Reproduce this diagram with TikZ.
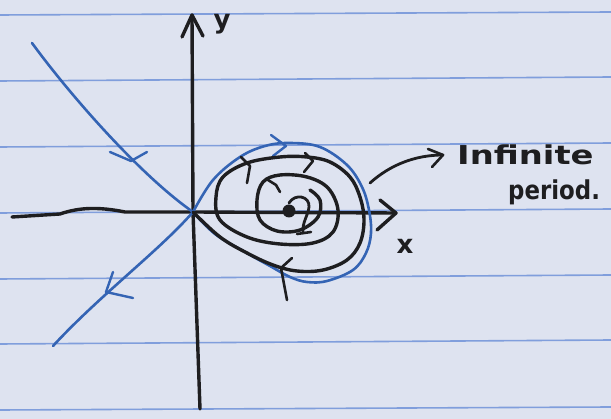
\documentclass[tikz,border=0pt]{standalone}
\usepackage{fontspec}
\newfontfamily\handfont{DejaVu Sans}
\begin{document}
\begin{tikzpicture}[x=1pt,y=-1pt,
  rule/.style={draw=rulec,line width=1.6pt},
  blueink/.style={draw=inkblue,line width=2.6pt,line cap=round,line join=round},
  blackink/.style={draw=inkblack,line width=3.4pt,line cap=round,line join=round},
  barb/.style={draw=inkblack,line width=2.6pt,line cap=round,line join=round},
  bluebarb/.style={draw=inkblue,line width=2.4pt,line cap=round,line join=round},
  handtext/.style={text=inkblack,inner sep=0pt,font=\handfont\bfseries}]
\definecolor{paperc}{RGB}{222,227,240}
\definecolor{rulec}{RGB}{128,158,220}
\definecolor{inkblue}{RGB}{52,100,180}
\definecolor{inkblack}{RGB}{30,30,32}
\useasboundingbox (0,0) rectangle (611,419);
\fill[paperc] (0,0) rectangle (611,419);
% ruled lines
\foreach \yl/\yr in {15/12,81/77,147/143,213/209,279/275,344/340,410/407}
  \draw[rule] (0,\yl) -- (611,\yr);
% axes
\coordinate (O) at (193,212);
\draw[blackink] (200,409) -- (O) -- (192,15);
\draw[blackink] (182,37) -- (192,15) -- (203,36);
\draw[blackink] (12,217) -- (60,214) .. controls (80,207) and (100,207) .. (125,212) -- (O) -- (396,213);
\draw[blackink] (380,200) -- (396,213) -- (377,230);
\node[handtext,font=\handfont\bfseries\fontsize{26}{26}\selectfont] (ylab) at (222,24) {y};
\node[handtext,font=\handfont\bfseries\fontsize{26}{26}\selectfont] (xlab) at (405,246) {x};
% stable manifold (blue)
\draw[blueink] (32,43) .. controls (70,95) and (140,175) .. (O);
\draw[bluebarb] (110,152) -- (131,161) -- (147,152);
% unstable manifold
\draw[blueink] (O) .. controls (160,250) and (100,295) .. (53,346);
\draw[bluebarb] (113,272) -- (106,292) -- (133,298);
% homoclinic loop (blue)
\draw[blueink] plot[smooth,tension=0.6] coordinates {(O) (213,180) (240,157) (265,146) (290,143) (320,147) (347,165) (362,187) (369,210) (371,233) (366,253) (353,270) (327,281) (307,282) (290,277) (270,266) (245,252) (215,234) (O)};
\draw[bluebarb] (271,135) -- (286,146) -- (273,156);
% spiral (black)
\draw[blackink] plot[smooth,tension=0.6] coordinates {(O) (220,237) (247,253) (273,265) (297,271) (323,270) (347,260) (360,243) (364,220) (360,197) (350,177) (330,162) (307,157) (280,157) (247,163) (223,177) (216,197) (220,220) (247,237) (280,244) (313,243) (333,232) (338,210) (328,188) (307,177) (280,175) (263,182) (257,200) (260,220) (277,231) (300,230) (318,217) (320,200) (310,190)};
\draw[barb] (241,157) -- (250,166) -- (247,183);
\draw[barb] (305,153) -- (313,161) -- (304,172);
\draw[barb] (268,180) -- (276,185) -- (280,192);
\draw[barb] (292,258) -- (281,268) -- (287,300);
% center
\fill[inkblack] (289,211) circle (6.5);
\draw[blackink,line width=2.8pt] (289,203) .. controls (295,193) and (310,196) .. (309,207) .. controls (308,216) and (302,222) .. (303,233);
\draw[barb] (297,234) -- (311,232);
% label and arrow
\coordinate (ps) at (370,183);
\coordinate (pt) at (443,155);
\draw[blackink,line width=2.8pt] (ps) .. controls (390,165) and (415,155) .. (pt);
\draw[barb] (428,149) -- (443,155) -- (432,167);
\node[handtext,anchor=base west] (inf) at (457,165) {\scalebox{1.3}[1]{\fontsize{26}{26}\selectfont Infinite}};
\node[handtext,anchor=base west] (per) at (508,200) {\scalebox{0.88}[1]{\fontsize{26}{26}\selectfont period.}};
\end{tikzpicture}
\end{document}
